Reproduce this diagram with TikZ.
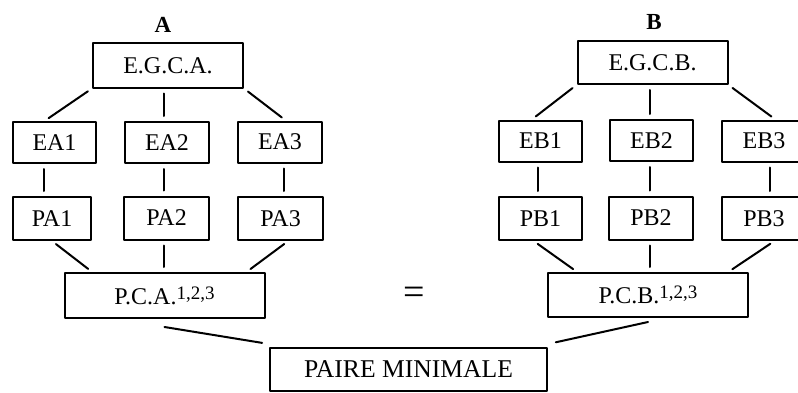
\documentclass[tikz,border=0pt]{standalone}
\usepackage{fontspec}
\setmainfont{Liberation Serif}
\usepackage{tikz}

\newcommand{\upidx}[1]{\raisebox{0.45ex}{\fontsize{9.5}{10}\selectfont #1}}

\begin{document}
\begin{tikzpicture}[line cap=round,line join=round,x=0.5pt,y=0.5pt,
  box/.style={draw,line width=1.pt,inner sep=0pt,font=\fontsize{12}{14}\selectfont},
  ebox/.style={box,minimum width=41.5pt,minimum height=20.5pt},
  pbox/.style={box,minimum width=41.5pt,minimum height=21.5pt},
  gbox/.style={box,minimum width=75pt,minimum height=22pt},
  cbox/.style={box,minimum width=100pt,minimum height=22.5pt},
  link/.style={line width=1.pt,shorten <=2.5pt,shorten >=2.5pt},
  head/.style={font=\fontsize{11.5}{13}\selectfont\bfseries}]
\useasboundingbox (0.,0.) rectangle (798.,392.);
\clip (0.,0.) rectangle (798.,392.);

% side A
\node[head] (labA) at (163.,367.) {A};
\node[gbox] (egca) at (168.,326.5) {E.G.C.A.};
\node[ebox] (ea1) at (54.5,249.5) {EA1};
\node[ebox,minimum width=42pt] (ea2) at (167.,249.5) {EA2};
\node[ebox,minimum width=42pt] (ea3) at (280.,250.) {EA3};
\node[pbox,minimum width=39pt] (pa1) at (52.,173.5) {PA1};
\node[pbox,minimum width=42.5pt] (pa2) at (166.5,174.) {PA2};
\node[pbox,minimum width=42.5pt] (pa3) at (280.5,173.5) {PA3};
\node[cbox] (pca) at (164.5,96.5) {P.C.A.\upidx{1,2,3}};

% side B
\node[head] (labB) at (654.,370.) {B};
\node[gbox,minimum height=21.5pt] (egcb) at (652.5,329.5) {E.G.C.B.};
\node[ebox] (eb1) at (540.5,251.) {EB1};
\node[ebox] (eb2) at (651.5,251.5) {EB2};
\node[ebox,minimum width=42pt] (eb3) at (764.,251.) {EB3};
\node[pbox] (pb1) at (540.5,173.5) {PB1};
\node[pbox,minimum width=42pt] (pb2) at (651.,174.) {PB2};
\node[pbox,minimum width=42pt] (pb3) at (764.,173.5) {PB3};
\node[cbox,minimum height=22pt] (pcb) at (648.,97.) {P.C.B.\upidx{1,2,3}};

\node[font=\fontsize{19}{20}\selectfont] (eq) at (414.,96.) {=};
\node[box,font=\fontsize{12.8}{14}\selectfont,minimum width=138.5pt,minimum height=21.5pt] (pm) at (408.5,22.5) {PAIRE MINIMALE};

\draw[link] (egca.south west) -- (ea1.115);
\draw[link] (egca.-100) -- (egca.-100 |- ea2.north);
\draw[link] (egca.south east) -- (ea3.75);
\draw[link] (ea1.-115) -- (ea1.-115 |- pa1.north);
\draw[link] (ea2.-98) -- (ea2.-98 |- pa2.north);
\draw[link] (ea3.-79) -- (ea3.-79 |- pa3.north);
\draw[link] (pa1.south) -- (pca.162);
\draw[link] (pa2.-97) -- (pa2.-97 |- pca.north);
\draw[link] (pa3.-71) -- (pca.16);

\draw[link] (egcb.south west) -- (eb1.112);
\draw[link] (egcb.-97) -- (egcb.-97 |- eb2.north);
\draw[link] (egcb.south east) -- (eb3.62);
\draw[link] (eb1.-97) -- (eb1.-97 |- pb1.north);
\draw[link] (eb2.-94) -- (eb2.-94 |- pb2.north);
\draw[link] (eb3.-74) -- (eb3.-74 |- pb3.north);
\draw[link] (pb1.-107) -- (pcb.162);
\draw[link] (pb2.-93) -- (pb2.-93 |- pcb.north);
\draw[link] (pb3.-65) -- (pcb.16);

\draw[link,shorten <=0pt,shorten >=3.5pt] ([yshift=-4pt]pca.south) -- ([yshift=1.5pt]pm.north west);
\draw[link,shorten <=0pt,shorten >=4pt] ([yshift=-2pt]pcb.south) -- ([yshift=1.5pt]pm.north east);
\end{tikzpicture}
\end{document}
